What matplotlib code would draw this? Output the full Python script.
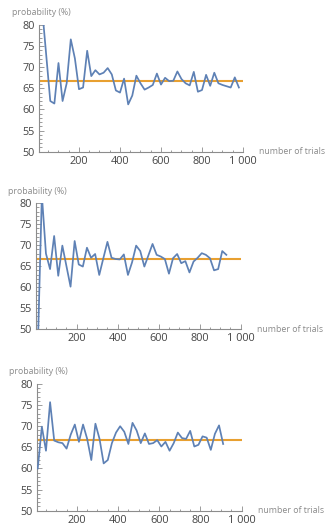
import numpy as np
import matplotlib
matplotlib.use("Agg")
import matplotlib.pyplot as plt
from matplotlib.ticker import MultipleLocator, FixedLocator

plt.rcParams['font.family'] = ['Open Sans', 'DejaVu Sans']

expected = 200 / 3  # theoretical probability in %

# three simulated runs: observed frequency after n trials
trials_a = np.arange(20, 1000, 20)
prob_a = [84, 73, 62, 61.4, 71, 62, 66.2, 76.6, 72.1, 64.8,
          65.2, 73.9, 67.9, 69.3, 68.3, 68.7, 69.8, 68.3, 64.5, 64.0,
          67.3, 61.2, 63.3, 68.0, 66.2, 64.7, 65.2, 65.8, 68.5, 65.9,
          67.5, 66.7, 66.8, 69.0, 67.2, 66.2, 65.7, 68.9, 64.2, 64.6,
          68.2, 65.6, 68.7, 66.2, 65.8, 65.5, 65.2, 67.6, 65.2]

trials_b = np.arange(10, 940, 20)
prob_b = [45, 82, 68.0, 64.3, 72.2, 62.7, 69.9, 65.0, 60.1, 71.0,
          65.4, 64.9, 69.4, 67.0, 67.9, 62.9, 66.9, 70.8, 67.0, 66.7,
          66.6, 67.8, 62.9, 65.9, 69.9, 68.6, 64.9, 67.6, 70.3, 67.7,
          67.3, 66.7, 63.2, 66.9, 67.9, 65.7, 66.2, 63.5, 66.1, 67.0,
          68.1, 67.7, 66.9, 64.0, 64.3, 68.6, 67.7]

trials_c = np.arange(10, 920, 20)
prob_c = [60.0, 69.9, 64.2, 75.7, 66.6, 66.2, 66.0, 64.7, 68.0, 70.4,
          66.3, 70.4, 67.0, 62.0, 70.6, 67.0, 61.2, 62.0, 66.0, 68.5,
          70.0, 68.7, 65.8, 70.8, 69.0, 66.0, 68.3, 65.8, 66.0, 66.7,
          65.2, 66.3, 64.2, 66.0, 68.5, 67.2, 67.0, 68.9, 65.2, 65.6,
          67.6, 67.3, 64.4, 68.2, 70.2, 65.8]

x_ticks = [200, 400, 600, 800, 1000]
x_tick_labels = ["200", "400", "600", "800", "1 000"]
y_ticks = [50, 55, 60, 65, 70, 75, 80]

runs = [
    (trials_a, prob_a, [39, 25, 243, 151.7], 5),
    (trials_b, prob_b, [35.7, 203.3, 240.7, 329], 0),
    (trials_c, prob_c, [36.7, 384, 241.7, 510.7], 5),
]

W, H = 330, 530
fig = plt.figure(figsize=(W / 100, H / 100), dpi=100)

axis_col = '#8c8c8c'
tick_col = '#444444'
label_col = '#8a8a8a'

for x, y, (l, t, r, b), x0 in runs:
    ax = fig.add_axes([l / W, 1 - b / H, (r - l) / W, (b - t) / H])
    ax.plot(x, y, color='#5E81B5', lw=1.25, zorder=3)
    ax.axhline(expected, color='#E8A030', lw=1.5, zorder=2)
    ax.set_xlim(x0, 1000)
    ax.set_ylim(50, 80)

    for side in ('top', 'right'):
        ax.spines[side].set_visible(False)
    for side in ('left', 'bottom'):
        ax.spines[side].set_color(axis_col)
        ax.spines[side].set_linewidth(0.8)

    ax.xaxis.set_major_locator(FixedLocator(x_ticks))
    ax.set_xticklabels(x_tick_labels)
    ax.xaxis.set_minor_locator(MultipleLocator(50))
    ax.yaxis.set_major_locator(FixedLocator(y_ticks))
    ax.yaxis.set_minor_locator(MultipleLocator(1))
    ax.tick_params(which='both', direction='in', color=axis_col, width=0.6,
                   labelsize=7.8, labelcolor=tick_col)
    ax.tick_params(which='major', length=3.5, pad=3)
    ax.tick_params(which='minor', length=1.8)
    ax.patch.set_alpha(0)

    ax.text(0.01, 1.06, "probability (%)", transform=ax.transAxes,
            ha='center', va='bottom', fontsize=6.3, color=label_col)
    ax.text(1.08, 0.0, "number of trials", transform=ax.transAxes,
            ha='left', va='center', fontsize=6.3, color=label_col)

fig.savefig("out.png", dpi=100)
